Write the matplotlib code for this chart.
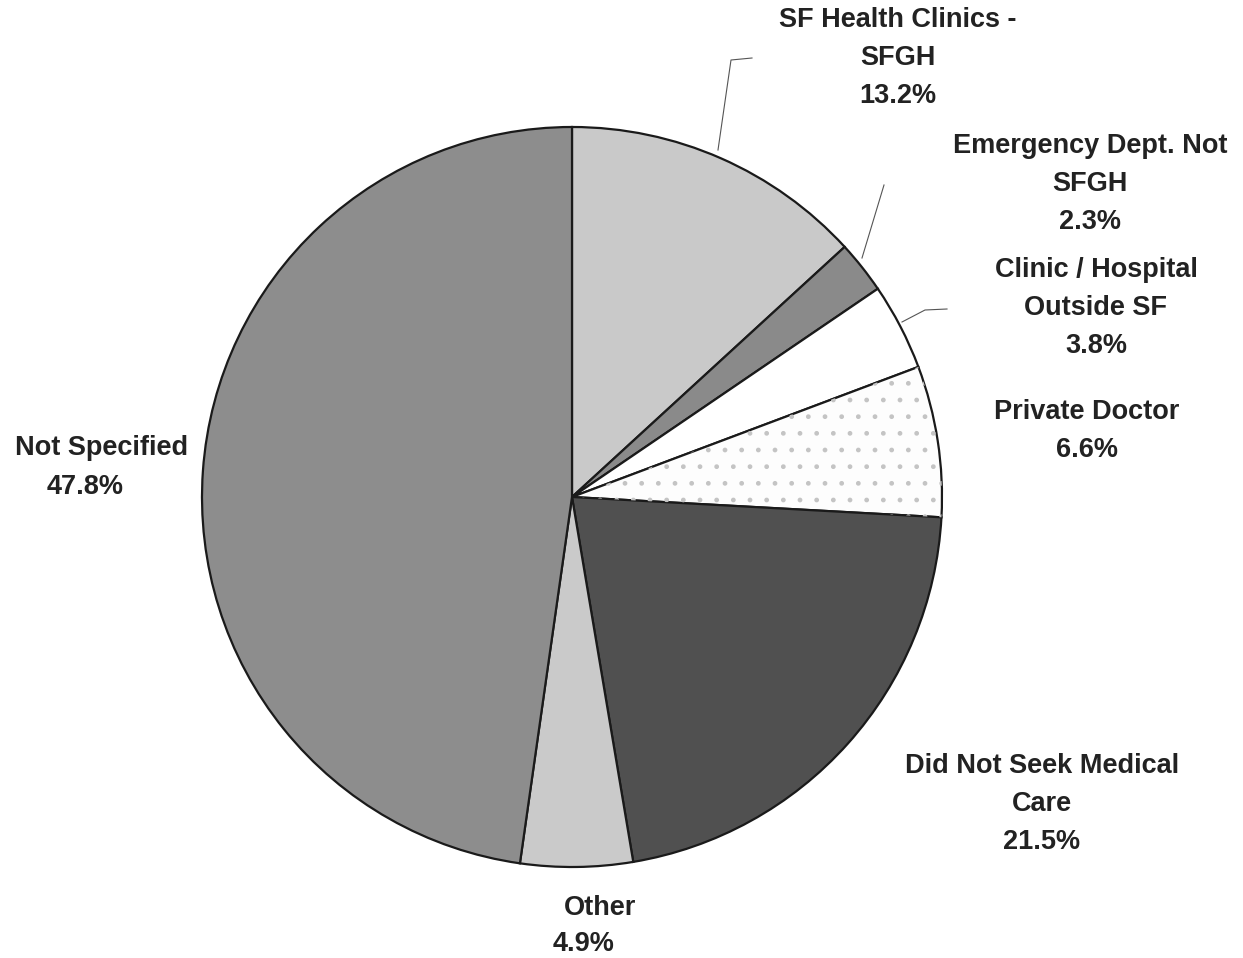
import matplotlib.pyplot as plt
from matplotlib.patches import Wedge

# slices, clockwise from 12 o'clock
labels = ["SF Health Clinics -\nSFGH", "Emergency Dept. Not\nSFGH", "Clinic / Hospital\nOutside SF",
          "Private Doctor", "Did Not Seek Medical\nCare", "Other", "Not Specified"]
shares = [13.2, 2.3, 3.8, 6.6, 21.5, 4.9, 47.8]
colors = ["#c9c9c9", "#8a8a8a", "#ffffff", "#fdfdfd", "#505050", "#cacaca", "#8d8d8d"]

H = 958
plt.rcParams["font.family"] = ["Liberation Sans", "DejaVu Sans"]

fig = plt.figure(figsize=(12.43, 9.58), dpi=100)
ax = fig.add_axes([0, 0, 1, 1])

wedges, _ = ax.pie(shares, colors=colors, startangle=90, counterclock=False,
                   center=(572, H - 497), radius=370,
                   wedgeprops=dict(edgecolor="#1a1a1a", linewidth=1.6))
# faint dotted texture on the private doctor slice
w = wedges[3]
ax.add_patch(Wedge(w.center, w.r, w.theta1, w.theta2, facecolor="none",
                   edgecolor="#c4c4c4", hatch=".", linewidth=0))
ax.set_xlim(0, 1243)
ax.set_ylim(0, H)
ax.set_aspect("equal")
ax.axis("off")

fs = 19.5
txt = dict(ha="center", va="center", fontsize=fs, fontweight="bold", color="#222222")

# label positions (pixel coords of text centres)
pos = [(898, 58), (1090, 184), (1096, 308), (1087, 431), (1042, 804)]
for lab, val, (x, y) in zip(labels, shares, pos):
    ax.text(x, H - y, f"{lab}\n{val}%", linespacing=1.6, **txt)

ax.text(600, H - 908, labels[5], **txt)
ax.text(584, H - 944, f"{shares[5]}%", **txt)
ax.text(102, H - 448, labels[6], **txt)
ax.text(85, H - 487, f"{shares[6]}%", **txt)

# leader lines
leaders = [
    [(718, 150), (731, 60), (752, 58)],
    [(862, 258), (884, 185)],
    [(902, 322), (925, 310), (947, 309)],
]
for pts in leaders:
    xs = [p[0] for p in pts]
    ys = [H - p[1] for p in pts]
    ax.plot(xs, ys, color="#555555", linewidth=0.8)

fig.savefig("out.png", dpi=100)
